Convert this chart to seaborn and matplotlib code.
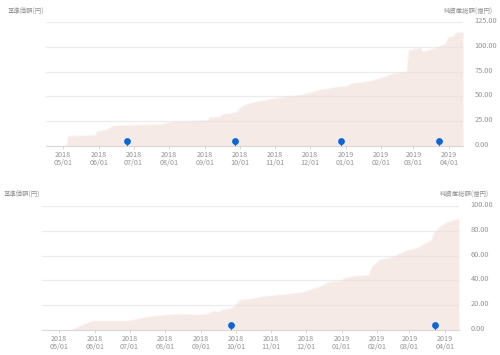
import matplotlib
matplotlib.use("Agg")
import matplotlib.pyplot as plt
import matplotlib.dates as mdates
from matplotlib.transforms import ScaledTranslation
import pandas as pd
import seaborn as sns

# top chart
top_dates = ["2018-05-04", "2018-05-05", "2018-05-29", "2018-05-30", "2018-06-08", "2018-06-13",
             "2018-07-24", "2018-08-04", "2018-09-03", "2018-09-05", "2018-09-14", "2018-09-16",
             "2018-09-28", "2018-10-03", "2018-10-08", "2018-10-16", "2018-11-05", "2018-11-25",
             "2018-12-09", "2018-12-27", "2019-01-02", "2019-01-06", "2019-01-22", "2019-02-04",
             "2019-02-10", "2019-02-23", "2019-02-25", "2019-03-07", "2019-03-09", "2019-03-23",
             "2019-03-29", "2019-03-31", "2019-04-05", "2019-04-07", "2019-04-13"]
top_values = [0, 10, 11, 14.5, 17, 20.5,
              22, 24.5, 26, 29, 29.5, 32,
              34, 40, 42.7, 44.7, 49, 52,
              56.5, 60, 60.5, 63, 65.5, 70,
              72.6, 75, 97, 99, 95, 100,
              103.5, 109.5, 111, 114.5, 115]
top_pins = ["2018-06-25", "2018-09-27", "2018-12-28", "2019-03-23"]
top_ticks = [0, 25, 50, 75, 100, 125]

# bottom chart
bottom_dates = ["2018-05-12", "2018-05-19", "2018-05-30", "2018-07-01", "2018-07-07", "2018-07-17",
                "2018-08-02", "2018-08-16", "2018-08-28", "2018-09-06", "2018-09-13", "2018-09-16",
                "2018-09-19", "2018-09-28", "2018-10-05", "2018-10-13", "2018-10-24", "2018-11-19",
                "2018-11-28", "2018-12-06", "2018-12-13", "2018-12-20", "2019-01-01", "2019-01-03",
                "2019-01-14", "2019-01-25", "2019-01-27", "2019-02-03", "2019-02-14", "2019-02-26",
                "2019-03-08", "2019-03-20", "2019-03-22", "2019-03-28", "2019-04-04", "2019-04-13"]
bottom_values = [0.3, 3.5, 7.5, 7.5, 9, 10.7,
                 12.3, 13, 12.3, 13, 15.5, 14.5,
                 16.3, 18, 24.4, 25, 27, 29.5,
                 30.5, 33, 35, 38.6, 39.7, 41.8,
                 43.7, 44.5, 51, 56.6, 59, 64,
                 66.5, 72.6, 78, 84, 87.5, 90]
bottom_pins = ["2018-09-27", "2019-03-23"]
bottom_ticks = [0, 20, 40, 60, 80, 100]

month_ticks = pd.date_range("2018-05-01", "2019-04-01", freq="MS")
left_label = "基準価額(円)"
right_label = "純資産総額(億円)"

sns.set_style("white")
plt.rcParams["font.family"] = ["Noto Sans CJK JP", "DejaVu Sans"]

GRAY = "#939393"
FILL = "#f0dcd8"
PIN = "#0a66d8"
W, H = 500, 355


def draw_chart(x0, y0, dates, values, pins, ticks, label_y, left_x, right_x):
    ax = fig.add_axes([x0 / W, 1 - y0 / H, 417 / W, 124 / H])
    df = pd.DataFrame({"date": pd.to_datetime(dates), "value": values})
    ax.fill_between(df["date"], df["value"], 0, color=FILL, alpha=0.6, lw=0, zorder=2)
    sns.lineplot(data=df, x="date", y="value", ax=ax, color=FILL, lw=0.4, alpha=0.3, zorder=2)

    # pin = small tail + round head, placed a few pixels above the axis
    pin_df = pd.DataFrame({"date": pd.to_datetime(pins), "value": ticks[-1] * 0.018})
    sns.scatterplot(data=pin_df, x="date", y="value", ax=ax, marker="v", color=PIN, s=8,
                    linewidth=0, zorder=4, clip_on=False)
    pin_df["value"] = ticks[-1] * 0.042
    sns.scatterplot(data=pin_df, x="date", y="value", ax=ax, marker="o", color=PIN, s=24,
                    linewidth=0, zorder=5, clip_on=False)

    ax.set_xlim(pd.Timestamp("2018-04-16"), pd.Timestamp("2019-04-13"))
    ax.set_ylim(0, ticks[-1])
    ax.set_xticks(month_ticks)
    ax.xaxis.set_major_formatter(mdates.DateFormatter("%Y\n%m/%d"))
    ax.yaxis.tick_right()
    ax.set_yticks(ticks)
    ax.set_yticklabels([f"{t:.2f}" for t in ticks])
    ax.set_xlabel("")
    ax.set_ylabel("")
    ax.grid(axis="y", color="#ececec", lw=0.9, zorder=1)
    ax.set_axisbelow(True)
    sns.despine(ax=ax, left=True, right=True, top=True)
    ax.spines["bottom"].set_color("#d8d8d8")
    ax.spines["bottom"].set_linewidth(0.8)
    ax.tick_params(axis="x", length=2, width=0.6, color="#d0d0d0", labelsize=5.2,
                   labelcolor=GRAY, pad=1.5, bottom=True)
    ax.tick_params(axis="y", length=0, labelsize=5.3, labelcolor=GRAY, pad=8.5)
    up = ScaledTranslation(0, 2 / 100, fig.dpi_scale_trans)
    for lab in ax.get_yticklabels():
        lab.set_transform(lab.get_transform() + up)
    for lab in ax.get_xticklabels():
        lab.set_linespacing(1.05)
    fig.text(left_x / W, 1 - label_y / H, left_label, fontsize=4.6, color=GRAY, va="center")
    fig.text(right_x / W, 1 - label_y / H, right_label, fontsize=4.6, color=GRAY, va="center")
    return ax


fig = plt.figure(figsize=(W / 100, H / 100), dpi=100, facecolor="white")
draw_chart(46, 146, top_dates, top_values, top_pins, top_ticks, 11.5, 8, 444)
draw_chart(42, 330, bottom_dates, bottom_values, bottom_pins, bottom_ticks, 194.5, 4, 440)
fig.savefig("out.png", dpi=100)
